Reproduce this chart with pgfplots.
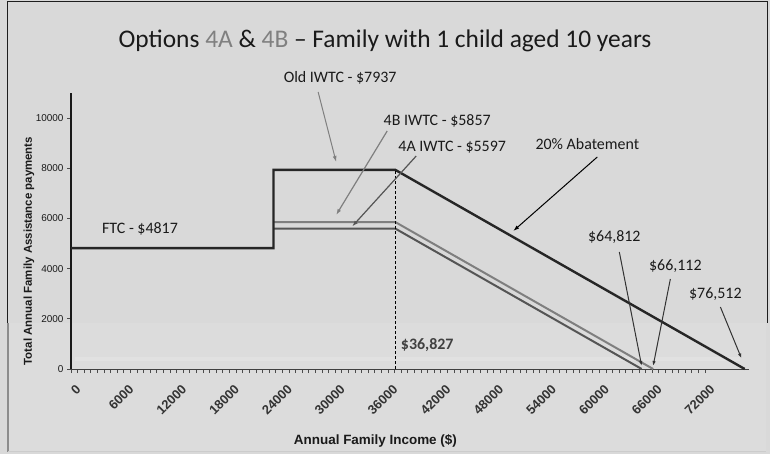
\documentclass[border=0pt]{standalone}
\usepackage{pgfplots}
\pgfplotsset{compat=1.18}
\usepackage{fontspec}
\setmainfont{Carlito}
\newfontfamily\arialfont{Liberation Sans}
\usetikzlibrary{arrows.meta}

\definecolor{bg}{HTML}{D9D9D9}
\definecolor{patch}{HTML}{DCDCDC}
\definecolor{band}{HTML}{E1E1E1}
\definecolor{framecol}{HTML}{1E1E1E}
\definecolor{oldcol}{HTML}{262626}
\definecolor{bcol}{HTML}{7F7F7F}
\definecolor{acol}{HTML}{555555}
\definecolor{txt}{HTML}{1A1A1A}
\definecolor{titlegray}{HTML}{808080}

% Total assistance by income: old IWTC, option 4B, option 4A
\pgfplotstableread{
x      y
0      4817
23000  4817
23000  7937
36827  7937
76512  0
}\oldiwtc
\pgfplotstableread{
x      y
23000  5857
36827  5857
66112  0
}\optionb
\pgfplotstableread{
x      y
23000  5597
36827  5597
64812  0
}\optiona

\begin{document}
\begin{tikzpicture}
\useasboundingbox (0bp,0bp) rectangle (770bp,454bp);
\fill[bg] (0bp,0bp) rectangle (770bp,454bp);
% lower panel
\fill[patch] (8bp,2bp) rectangle (766bp,131bp);
\fill[band] (75bp,93bp) rectangle (740bp,97bp);
\draw[framecol, line width=1bp] (7.5bp,131bp) -- (7.5bp,452bp) -- (767.5bp,452bp) -- (767.5bp,131bp);
\draw[black!45, line width=2bp] (8bp,2bp) -- (8bp,131bp);
\draw[black!20, line width=1bp] (8bp,2.5bp) -- (766bp,2.5bp);

% title
\node[font=\fontsize{25.5}{30}\selectfont, text=txt] at (385bp,413bp)
  {Options \textcolor{titlegray}{4A} \& \textcolor{titlegray}{4B} – Family with 1 child aged 10 years};

\begin{axis}[
  at={(71bp,85bp)}, anchor=south west,
  scale only axis, width=678bp, height=276bp,
  xmin=0, xmax=77000, ymin=0, ymax=11000,
  axis lines=left, axis line style={-},
  x axis line style={line width=1bp, color=black!75},
  y axis line style={line width=2bp, color=black!90},
  clip=false,
  scaled ticks=false,
  /pgf/number format/assume math mode=true,
  /pgf/number format/set thousands separator={},
  xtick={0,6000,...,72000},
  minor x tick num=7,
  ytick={0,2000,...,10000},
  tick align=outside,
  major tick length=4bp, minor tick length=4bp,
  every tick/.style={black!70, line width=0.8bp},
  yticklabel style={font=\arialfont\fontsize{10}{12}\selectfont, text=txt},
  xticklabel style={font=\arialfont\bfseries\fontsize{13}{15}\selectfont, text=black!80,
    rotate=45, anchor=east, xshift=-1bp, yshift=-15bp},
  xlabel={Annual Family Income (\$)},
  ylabel={Total Annual Family Assistance payments},
  xlabel style={font=\arialfont\bfseries\fontsize{13.5}{15}\selectfont, text=txt,
    at={(axis description cs:0.449,-0.261)}, anchor=center},
  ylabel style={font=\arialfont\bfseries\fontsize{11.5}{13}\selectfont, text=txt,
    at={(axis description cs:-0.062,0.4275)}, anchor=center, rotate=0},
]
\addplot[bcol, line width=2bp] table {\optionb};
\addplot[acol, line width=2bp] table {\optiona};
\addplot[oldcol, line width=2.4bp] table {\oldiwtc};
\addplot[black, line width=0.8bp, dash pattern=on 3bp off 2bp] coordinates {(36827,0) (36827,7937)};

% annotations
\node[font=\fontsize{16}{18}\selectfont, text=txt] at (axis cs:7841,5580) {FTC - \$4817};
\node[font=\fontsize{16}{18}\selectfont, text=txt] at (axis cs:30568,11598) {Old IWTC - \$7937};
\draw[-{Latex[length=6bp,width=4bp]}, bcol, line width=1bp] (axis cs:28068,11040) -- (axis cs:30114,8250);
\node[font=\fontsize{16}{18}\selectfont, text=txt] at (axis cs:41591,9884) {4B IWTC - \$5857};
\draw[-{Latex[length=6bp,width=4bp]}, bcol, line width=1.2bp] (axis cs:35909,9486) -- (axis cs:30114,6138);
\node[font=\fontsize{16}{18}\selectfont, text=txt] at (axis cs:43295,8848) {4A IWTC - \$5597};
\draw[-{Latex[length=6bp,width=4bp]}, acol, line width=1.2bp] (axis cs:39205,8489) -- (axis cs:31932,5680);
\node[font=\fontsize{16}{18}\selectfont, text=txt] at (axis cs:58636,8968) {20\% Abatement};
\draw[-{Latex[length=6bp,width=4bp]}, black, line width=1bp] (axis cs:59773,8450) -- (axis cs:50227,5500);
\node[font=\fontsize{16}{18}\selectfont, text=txt] at (axis cs:61705,5261) {\$64,812};
\draw[-{Latex[length=5bp,width=3.5bp]}, black!80, line width=1bp] (axis cs:62273,4663) -- (axis cs:64812,120);
\node[font=\fontsize{16}{18}\selectfont, text=txt] at (axis cs:68636,4105) {\$66,112};
\draw[-{Latex[length=5bp,width=3.5bp]}, black!80, line width=1bp] (axis cs:68068,3587) -- (axis cs:66112,120);
\node[font=\fontsize{16}{18}\selectfont, text=txt] at (axis cs:73182,2989) {\$76,512};
\draw[-{Latex[length=5bp,width=3.5bp]}, black!80, line width=1bp] (axis cs:73750,2471) -- (axis cs:76150,420);
\node[font=\bfseries\fontsize{16}{18}\selectfont, text=black!75] at (axis cs:40455,957) {\$36,827};
\end{axis}
\end{tikzpicture}
\end{document}
